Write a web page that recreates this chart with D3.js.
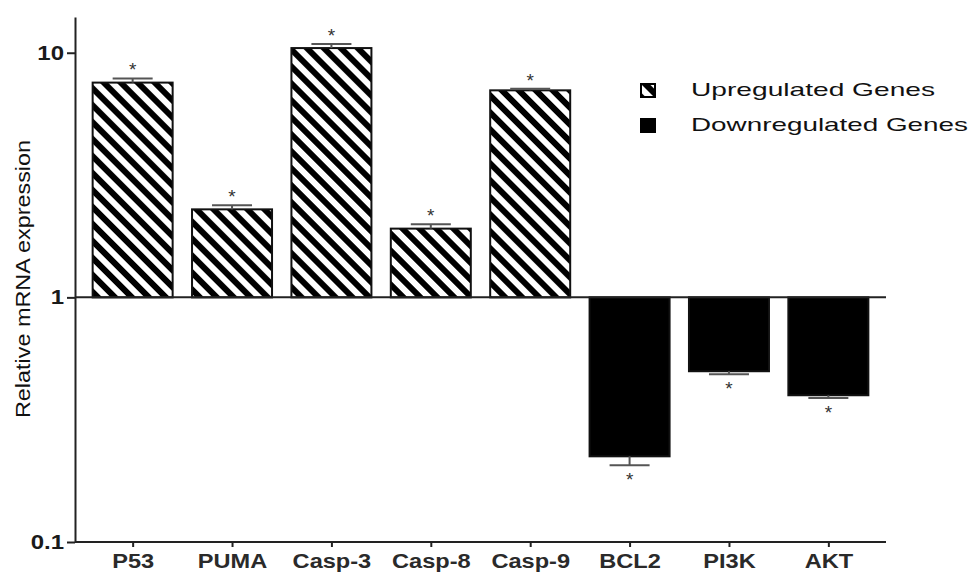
<!DOCTYPE html>
<html>
<head>
<meta charset="utf-8">
<script src="https://cdn.jsdelivr.net/npm/d3@7"></script>
<style>
  body { margin: 0; background: #fff; }
  svg { display: block; font-family: "Liberation Sans", Arial, sans-serif; }
</style>
</head>
<body>
<svg id="chart" width="974" height="572"></svg>
<script>
// values
const genes = ['P53', 'PUMA', 'Casp-3', 'Casp-8', 'Casp-9', 'BCL2', 'PI3K', 'AKT']
const expression = [7.55, 2.29, 10.45, 1.91, 7.02, 0.224, 0.499, 0.398]
const errors = [0.3, 0.09, 0.4, 0.08, 0.1, 0.018, 0.014, 0.01]
const yTicks = [0.1, 1, 10]
const legendLabels = ['Upregulated Genes', 'Downregulated Genes']
const legendWidths = [244, 277]

const svg = d3.select('#chart')

// diagonal hatch for the upregulated bars
const defs = svg.append('defs')
defs.append('pattern')
  .attr('id', 'hatch')
  .attr('patternUnits', 'userSpaceOnUse')
  .attr('width', 12)
  .attr('height', 12)
  .attr('patternTransform', 'rotate(-45)')
  .call(p => {
    p.append('rect').attr('width', 12).attr('height', 12).attr('fill', '#fff')
    p.append('line').attr('x1', 3).attr('x2', 3).attr('y1', 0).attr('y2', 12)
      .attr('stroke', '#000').attr('stroke-width', 6)
  })

const x = d3.scalePoint().domain(genes).range([75, 886]).padding(0.58)
const y = d3.scaleLog().domain([0.1, 14]).range([542, 17])
const barWidth = 80

// bars
const bars = svg.append('g')
genes.forEach(function(g, i) {
  const v = expression[i]
  const up = v >= 1
  bars.append('rect')
    .attr('x', x(g) - barWidth / 2)
    .attr('y', up ? y(v) : y(1))
    .attr('width', barWidth)
    .attr('height', Math.abs(y(v) - y(1)))
    .attr('fill', up ? 'url(#hatch)' : '#000')
    .attr('stroke', '#111')
    .attr('stroke-width', 2)
})

// error bars and stars
const err = svg.append('g').attr('stroke', '#555').attr('stroke-width', 2)
genes.forEach(function(g, i) {
  const v = expression[i]
  const up = v >= 1
  const end = up ? v + errors[i] : v - errors[i]
  err.append('line').attr('x1', x(g)).attr('x2', x(g)).attr('y1', y(v)).attr('y2', y(end))
  err.append('line').attr('x1', x(g) - 20).attr('x2', x(g) + 20).attr('y1', y(end)).attr('y2', y(end))
  svg.append('text')
    .attr('x', x(g))
    .attr('y', up ? y(end) - 2 : y(end) + 21)
    .attr('text-anchor', 'middle')
    .attr('font-size', 19)
    .attr('fill', '#333')
    .text('*')
})

// baseline at 1
svg.append('line')
  .attr('x1', 75).attr('x2', 886)
  .attr('y1', y(1)).attr('y2', y(1))
  .attr('stroke', '#222').attr('stroke-width', 2)

// axes
const yAxis = svg.append('g')
  .attr('transform', 'translate(75,0)')
  .call(d3.axisLeft(y).tickValues(yTicks).tickFormat(d => d).tickSize(8).tickSizeOuter(0))
yAxis.select('.domain').attr('stroke', '#222').attr('stroke-width', 2)
yAxis.selectAll('.tick line').attr('stroke', '#222').attr('stroke-width', 2)
yAxis.selectAll('.tick text')
  .attr('font-size', 20).attr('font-weight', 'bold').attr('fill', '#1a1a1a')
  .attr('font-family', '"Liberation Sans", Arial, sans-serif')
  .attr('x', 0)
  .attr('transform', 'translate(-11,0) scale(1.2,1)')

const xAxis = svg.append('g')
  .attr('transform', 'translate(0,' + y(0.1) + ')')
  .call(d3.axisBottom(x).tickSize(5).tickSizeOuter(0))
xAxis.select('.domain').attr('stroke', '#222').attr('stroke-width', 2).attr('d', 'M75,0H886')
xAxis.selectAll('.tick line').attr('stroke', '#222').attr('stroke-width', 2)
xAxis.selectAll('.tick text')
  .attr('font-size', 19.5).attr('font-weight', 'bold').attr('fill', '#2a2a2a')
  .attr('font-family', '"Liberation Sans", Arial, sans-serif')
  .attr('y', 12).attr('dy', '0.71em')
  .attr('transform', 'scale(1.21,1)')

svg.append('text')
  .attr('transform', 'translate(30,279) rotate(-90) scale(1.17,1)')
  .attr('text-anchor', 'middle')
  .attr('font-size', 20)
  .attr('fill', '#111')
  .text('Relative mRNA expression')

// legend
const legend = svg.append('g').attr('transform', 'translate(641,84)')
legendLabels.forEach(function(label, i) {
  legend.append('rect')
    .attr('x', 0).attr('y', i * 35)
    .attr('width', 14).attr('height', 13)
    .attr('fill', i === 0 ? 'url(#hatch)' : '#000')
    .attr('stroke', '#000').attr('stroke-width', 2)
  legend.append('text')
    .attr('x', 50).attr('y', i * 35 + 12)
    .attr('font-size', 19)
    .attr('fill', '#111')
    .attr('textLength', legendWidths[i])
    .attr('lengthAdjust', 'spacingAndGlyphs')
    .text(label)
})
</script>
</body>
</html>
